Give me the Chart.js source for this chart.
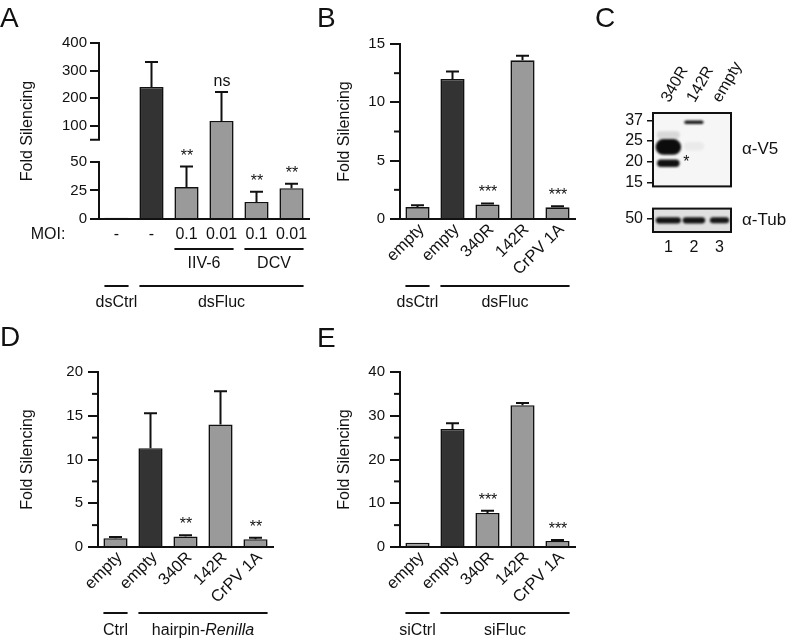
<!DOCTYPE html>
<html><head><meta charset="utf-8">
<script src="https://cdn.jsdelivr.net/npm/chart.js@4.4.1/dist/chart.umd.min.js"></script>
<style>
html,body{margin:0;padding:0;background:#fff;}
#wrap{position:relative;width:797px;height:644px;overflow:hidden;font-family:'Liberation Sans',Arial,Helvetica,sans-serif;}
canvas{position:absolute;}
.lt{position:absolute;font-size:28px;line-height:28px;color:#111;}
</style></head><body>
<div id="wrap">
<canvas id="cA" width="330" height="320" style="left:0;top:0"></canvas>
<canvas id="cB" width="280" height="320" style="left:310px;top:0"></canvas>
<canvas id="cC1" width="207" height="200" style="left:590px;top:0"></canvas>
<canvas id="cC2" width="207" height="70" style="left:590px;top:195px"></canvas>
<canvas id="cD" width="300" height="324" style="left:0;top:320px"></canvas>
<canvas id="cE" width="280" height="324" style="left:310px;top:320px"></canvas>
<div class="lt" style="left:0;top:4px">A</div>
<div class="lt" style="left:317px;top:4px">B</div>
<div class="lt" style="left:595px;top:4px">C</div>
<div class="lt" style="left:0;top:323px">D</div>
<div class="lt" style="left:317px;top:324px">E</div>
</div>
<script>
// ================= DATA =================
// Panel A (broken y axis)
const moiA = ['-', '-', '0.1', '0.01', '0.1', '0.01'];
const valuesA = [1, 241, 28, 118, 15, 27];
const errTopA = [1, 331, 46, 223, 24, 31];
const sigA = ['', '', '**', 'ns', '**', '**'];
const shadeA = ['light', 'dark', 'light', 'light', 'light', 'light'];
const ticksA = [0, 25, 50, 100, 200, 300, 400];
const breakA = 50;
const virusGroupsA = [{label: 'IIV-6', from: 2, to: 3}, {label: 'DCV', from: 4, to: 5}];
const dsGroupsA = [{label: 'dsCtrl', from: 0, to: 0}, {label: 'dsFluc', from: 1, to: 5}];

// Panel B
const labelsB = ['empty', 'empty', '340R', '142R', 'CrPV 1A'];
const valuesB = [1.02, 12.0, 1.25, 13.6, 1.0];
const errTopB = [1.18, 12.65, 1.33, 14.0, 1.1];
const sigB = ['', '', '***', '', '***'];
const shadeB = ['light', 'dark', 'light', 'light', 'light'];
const minorB = [2.5, 7.5, 12.5];
const groupsB = [{label: 'dsCtrl', from: 0, to: 0}, {label: 'dsFluc', from: 1, to: 4}];

// Panel C (western blot)
const mwMarkersV5 = ['37', '25', '20', '15'];
const laneNames = ['340R', '142R', 'empty'];
const laneNumbers = [1, 2, 3];
const v5BandLane = [1, 1, 1, 2, 2];
const v5BandPos = [0.7, 1.28, 2.07, 0.09, 1.25];      // in marker-index units
const v5BandThick = [0.35, 0.75, 0.36, 0.17, 0.4];
const v5BandWidth = [0.9, 1.0, 0.88, 0.75, 0.8];
const v5BandDark = [0.13, 1.0, 0.98, 0.95, 0.05];
const mwMarkersTub = ['50'];
const tubBandLane = [1, 2, 3];
const tubBandPos = [0.07, 0.07, 0.07];
const tubBandThick = [0.27, 0.27, 0.26];
const tubBandWidth = [0.98, 0.88, 0.75];
const tubBandDark = [0.97, 0.97, 0.95];

// Panel D
const labelsD = ['empty', 'empty', '340R', '142R', 'CrPV 1A'];
const valuesD = [1.0, 11.3, 1.2, 14.0, 0.9];
const errTopD = [1.15, 15.3, 1.35, 17.8, 1.05];
const sigD = ['', '', '**', '', '**'];
const shadeD = ['light', 'dark', 'light', 'light', 'light'];
const minorD = [2.5, 7.5, 12.5, 17.5];
const groupsD = [{label: 'Ctrl', from: 0, to: 0}, {label: [['hairpin-', false], ['Renilla', true]], from: 1, to: 4}];

// Panel E
const labelsE = ['empty', 'empty', '340R', '142R', 'CrPV 1A'];
const valuesE = [1.0, 27.0, 7.8, 32.4, 1.4];
const errTopE = [1.0, 28.3, 8.3, 32.9, 1.6];
const sigE = ['', '', '***', '', '***'];
const shadeE = ['light', 'dark', 'light', 'light', 'light'];
const minorE = [5, 15, 25, 35];
const groupsE = [{label: 'siCtrl', from: 0, to: 0}, {label: 'siFluc', from: 1, to: 4}];

// ================= STYLE =================
const FONT = "'Liberation Sans', Arial, Helvetica, sans-serif";
const INK = '#111111', DARK = '#333333', LIGHT = '#9a9a9a';
Chart.defaults.font.family = FONT;
Chart.defaults.font.size = 15;
Chart.defaults.color = INK;
Chart.defaults.animation = false;
Chart.defaults.responsive = false;
Chart.defaults.plugins.legend.display = false;
Chart.defaults.plugins.tooltip.enabled = false;

// broken linear scale for panel A
const lowFracA = 0.324, gapFracA = 0.126;
class BrokenLinearScale extends Chart.LinearScale {
  static id = 'brokenLinear';
  _frac(v) {
    if (v <= breakA) return (v - this.min) / (breakA - this.min) * lowFracA;
    return lowFracA + gapFracA + (v - breakA) / (this.max - breakA) * (1 - lowFracA - gapFracA);
  }
  getPixelForValue(v) { return this.bottom - this._frac(v) * (this.bottom - this.top); }
  getValueForPixel(p) {
    const f = (this.bottom - p) / (this.bottom - this.top);
    if (f <= lowFracA) return this.min + f / lowFracA * (breakA - this.min);
    return breakA + Math.max(0, f - lowFracA - gapFracA) / (1 - lowFracA - gapFracA) * (this.max - breakA);
  }
  upperStartPixel() { return this.bottom - (lowFracA + gapFracA) * (this.bottom - this.top); }
}
Chart.register(BrokenLinearScale);

function drawLabel(ctx, label, cx, cy, size) {
  const parts = typeof label === 'string' ? [[label, false]] : label;
  const fonts = parts.map(p => (p[1] ? 'italic ' : '') + size + 'px ' + FONT);
  let total = 0;
  const ws = parts.map((p, i) => { ctx.font = fonts[i]; const w = ctx.measureText(p[0]).width; total += w; return w; });
  let x = cx - total / 2;
  ctx.textAlign = 'left'; ctx.textBaseline = 'middle';
  parts.forEach((p, i) => { ctx.font = fonts[i]; ctx.fillText(p[0], x, cy); x += ws[i]; });
}

function deco(o) {
  return {
    id: 'deco',
    afterDatasetsDraw(chart) {
      const ctx = chart.ctx, y = chart.scales.y, meta = chart.getDatasetMeta(0), a = chart.chartArea;
      ctx.save();
      ctx.strokeStyle = INK; ctx.fillStyle = INK; ctx.lineWidth = 2; ctx.lineCap = 'butt';
      // error bars + significance
      o.errTop.forEach((e, i) => {
        const bar = meta.data[i], v = o.values[i];
        const yt = y.getPixelForValue(e), yb = y.getPixelForValue(v);
        if (e > v) {
          ctx.beginPath();
          ctx.moveTo(bar.x, yb); ctx.lineTo(bar.x, yt);
          ctx.moveTo(bar.x - 6.5, yt); ctx.lineTo(bar.x + 6.5, yt);
          ctx.stroke();
        }
        if (o.sig[i]) {
          ctx.font = '16px ' + FONT; ctx.textAlign = 'center'; ctx.textBaseline = 'alphabetic';
          ctx.fillText(o.sig[i], bar.x + 0.5, Math.min(yt, yb) - 6);
        }
      });
      // minor ticks
      (o.minor || []).forEach(v => {
        const py = y.getPixelForValue(v);
        ctx.beginPath(); ctx.moveTo(a.left - 6, py); ctx.lineTo(a.left, py); ctx.stroke();
      });
      // broken axis (panel A)
      if (o.broken) {
        const x0 = a.left;
        const yLow0 = y.getPixelForValue(0), yLow1 = y.getPixelForValue(breakA);
        const yUp0 = y.upperStartPixel(), yUp1 = y.getPixelForValue(y.max);
        ctx.beginPath();
        ctx.moveTo(x0, yLow0 + 1); ctx.lineTo(x0, yLow1 - 1);
        ctx.moveTo(x0, yUp0 + 1); ctx.lineTo(x0, yUp1 - 1);
        ctx.moveTo(x0 - 9, yUp0); ctx.lineTo(x0 + 1, yUp0);
        ctx.stroke();
      }
      // group rows
      (o.rows || []).forEach(r => {
        r.groups.forEach(g => {
          const b0 = meta.data[g.from], b1 = meta.data[g.to];
          const xl = b0.x - b0.width / 2, xr = b1.x + b1.width / 2;
          ctx.beginPath(); ctx.moveTo(xl, r.lineY); ctx.lineTo(xr, r.lineY); ctx.stroke();
          drawLabel(ctx, g.label, (xl + xr) / 2, r.textY, 16);
        });
      });
      (o.texts || []).forEach(t => {
        ctx.font = '16px ' + FONT; ctx.textAlign = 'center'; ctx.textBaseline = 'middle';
        ctx.fillText(t.text, t.x, t.y);
      });
      ctx.restore();
    }
  };
}

function yAxis(o) {
  const ax = {
    type: o.type || 'linear', min: 0, max: o.max,
    border: {display: !o.broken, color: INK, width: 2},
    grid: {display: true, drawOnChartArea: false, drawTicks: true, tickLength: o.tickLen, color: INK, lineWidth: 2},
    ticks: {padding: o.tickPad, font: {size: 15}, color: INK},
    title: {display: true, text: 'Fold Silencing', font: {size: 16}, color: INK, padding: {top: o.titlePad, bottom: 0}},
    afterFit: s => { s.width = o.width; }
  };
  if (o.step) ax.ticks.stepSize = o.step;
  if (o.tickValues) ax.afterBuildTicks = s => { s.ticks = o.tickValues.map(v => ({value: v})); };
  return ax;
}

function barPanel(id, o) {
  return new Chart(document.getElementById(id), {
    type: 'bar',
    data: {labels: o.labels, datasets: [{
      data: o.values,
      backgroundColor: o.shade.map(s => s === 'dark' ? DARK : LIGHT),
      borderColor: INK, borderWidth: 1.6, barPercentage: 0.69, categoryPercentage: 1
    }]},
    options: {
      layout: {padding: o.padding},
      scales: {
        x: {
          grid: {display: false, drawTicks: false},
          border: {display: true, color: INK, width: 2},
          ticks: Object.assign({color: INK, font: {size: 16}, autoSkip: false}, o.xTicks),
          afterFit: s => { s.height = o.xHeight; }
        },
        y: o.y
      }
    },
    plugins: [deco(o)]
  });
}

// ---- A ----
barPanel('cA', {
  labels: moiA, values: valuesA, errTop: errTopA, sig: sigA, shade: shadeA, broken: true,
  padding: {top: 43, right: 21, bottom: 71, left: 0}, xHeight: 30,
  xTicks: {padding: 6, maxRotation: 0, minRotation: 0},
  y: yAxis({type: 'brokenLinear', max: 400, tickValues: ticksA, tickLen: 9, tickPad: 3, titlePad: 18, width: 99, broken: true}),
  rows: [{groups: virusGroupsA, lineY: 249, textY: 264}, {groups: dsGroupsA, lineY: 286, textY: 303}],
  texts: [{text: 'MOI:', x: 48, y: 235}]
});

// ---- B ----
const rotTicks = {padding: 1, maxRotation: 45, minRotation: 45, labelOffset: 4, font: {size: 16.5}};
barPanel('cB', {
  labels: labelsB, values: valuesB, errTop: errTopB, sig: sigB, shade: shadeB, minor: minorB,
  padding: {top: 44, right: 15, bottom: 41, left: 0}, xHeight: 60, xTicks: rotTicks,
  y: yAxis({max: 15, step: 5, tickLen: 10, tickPad: 5, titlePad: 25, width: 90}),
  rows: [{groups: groupsB, lineY: 286, textY: 303}]
});

// ---- D ----
barPanel('cD', {
  labels: labelsD, values: valuesD, errTop: errTopD, sig: sigD, shade: shadeD, minor: minorD,
  padding: {top: 52, right: 27, bottom: 37, left: 0}, xHeight: 60, xTicks: rotTicks,
  y: yAxis({max: 20, step: 5, tickLen: 10, tickPad: 5, titlePad: 18, width: 98}),
  rows: [{groups: groupsD, lineY: 293, textY: 311}]
});

// ---- E ----
barPanel('cE', {
  labels: labelsE, values: valuesE, errTop: errTopE, sig: sigE, shade: shadeE, minor: minorE,
  padding: {top: 52, right: 15, bottom: 37, left: 0}, xHeight: 60, xTicks: rotTicks,
  y: yAxis({max: 40, step: 10, tickLen: 10, tickPad: 5, titlePad: 25, width: 90}),
  rows: [{groups: groupsE, lineY: 293, textY: 311}]
});

// ---- C (blot) ----
function blotPlugin(o) {
  return {
    id: 'blot',
    beforeDatasetsDraw(chart) {
      const {ctx, chartArea: a} = chart;
      const xs = chart.scales.x, ys = chart.scales.y, meta = chart.getDatasetMeta(0);
      const ux = Math.abs(xs.getPixelForValue(1) - xs.getPixelForValue(0));
      const uy = Math.abs(ys.getPixelForValue(1) - ys.getPixelForValue(0));
      ctx.save();
      ctx.fillStyle = o.bg;
      ctx.fillRect(a.left, a.top, a.right - a.left, a.bottom - a.top);
      ctx.beginPath(); ctx.rect(a.left, a.top, a.right - a.left, a.bottom - a.top); ctx.clip();
      ctx.filter = 'blur(1px)';
      meta.data.forEach((pt, i) => {
        const w = o.width[i] * ux, h = o.thick[i] * uy;
        ctx.fillStyle = 'rgba(12,12,12,' + o.dark[i] + ')';
        ctx.beginPath();
        ctx.roundRect(pt.x - w / 2, pt.y - h / 2, w, h, Math.min(h / 2, w / 2));
        ctx.fill();
      });
      ctx.filter = 'none';
      ctx.restore();
      ctx.save();
      ctx.strokeStyle = INK; ctx.lineWidth = 2;
      ctx.strokeRect(a.left, a.top, a.right - a.left, a.bottom - a.top);
      ctx.fillStyle = INK;
      ctx.font = '17px ' + FONT; ctx.textAlign = 'left'; ctx.textBaseline = 'middle';
      ctx.fillText(o.antibody, a.right + 11, (a.top + a.bottom) / 2);
      ctx.font = '16px ' + FONT;
      if (o.laneNames) {
        o.laneNames.forEach((n, i) => {
          const x = xs.getPixelForValue(laneNumbers[i]);
          ctx.save();
          ctx.translate(x - 3, a.top - 12);
          ctx.rotate(-Math.PI / 3);
          ctx.textAlign = 'left'; ctx.textBaseline = 'middle';
          ctx.fillText(n, 0, 0);
          ctx.restore();
        });
      }
      if (o.star) {
        const p = meta.data[o.star];
        ctx.textAlign = 'left'; ctx.textBaseline = 'middle';
        ctx.fillText('*', p.x + 15, p.y - 1);
      }
      ctx.restore();
    }
  };
}

function blotChart(id, o) {
  return new Chart(document.getElementById(id), {
    type: 'scatter',
    data: {datasets: [{data: o.lanes.map((l, i) => ({x: l, y: o.pos[i]})), pointRadius: 0}]},
    options: {
      layout: {padding: o.padding},
      scales: {
        x: o.xAxis,
        y: {
          type: 'linear', reverse: true, min: o.yMin, max: o.yMax,
          border: {display: false},
          grid: {display: true, drawOnChartArea: false, drawTicks: true, tickLength: 6, color: INK, lineWidth: 1.5},
          ticks: {padding: 4, font: {size: 16}, color: INK, callback: (v) => o.markers[v]},
          afterBuildTicks: s => { s.ticks = o.markers.map((m, i) => ({value: i})); },
          afterFit: s => { s.width = 63; }
        }
      }
    },
    plugins: [blotPlugin(o)]
  });
}

blotChart('cC1', {
  lanes: v5BandLane, pos: v5BandPos, thick: v5BandThick, width: v5BandWidth, dark: v5BandDark,
  markers: mwMarkersV5, yMin: -0.35, yMax: 3.18, bg: '#f6f6f6', antibody: 'α-V5',
  laneNames: laneNames, star: 2,
  padding: {top: 113, right: 66, bottom: 7, left: 0},
  xAxis: {type: 'linear', display: false, min: 0.4, max: 3.45}
});

blotChart('cC2', {
  lanes: tubBandLane, pos: tubBandPos, thick: tubBandThick, width: tubBandWidth, dark: tubBandDark,
  markers: mwMarkersTub, yMin: -0.43, yMax: 0.57, bg: '#e0e0e0', antibody: 'α-Tub',
  padding: {top: 7, right: 66, bottom: 7, left: 0},
  xAxis: {
    type: 'linear', display: true, min: 0.4, max: 3.45,
    grid: {display: false, drawTicks: false}, border: {display: false},
    ticks: {padding: 6, font: {size: 16}, color: INK},
    afterBuildTicks: s => { s.ticks = laneNumbers.map(v => ({value: v})); },
    afterFit: s => { s.height = 26; }
  }
});
</script>
</body></html>
